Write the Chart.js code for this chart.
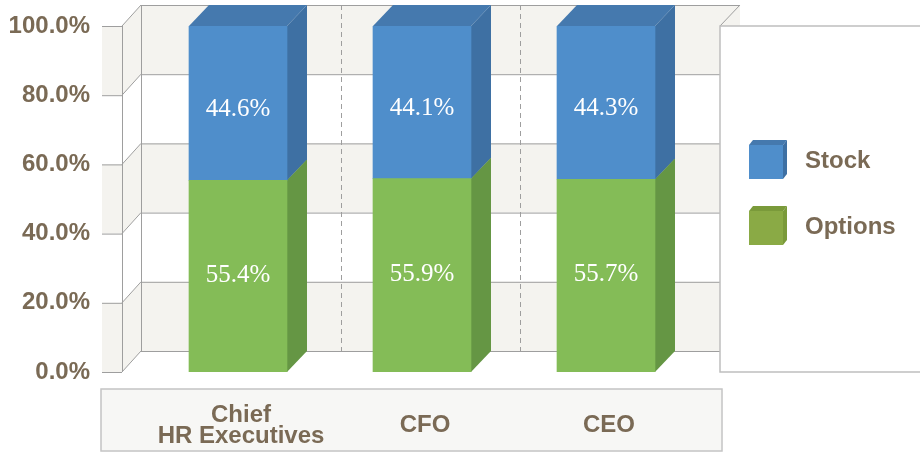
<!DOCTYPE html>
<html>
<head>
<meta charset="utf-8">
<title>Stock and options mix</title>
<script src="https://cdn.jsdelivr.net/npm/chart.js@4"></script>
<style>
    html, body { margin: 0; padding: 0; background: #fff; }
    canvas { display: block; }
</style>
</head>
<body>
<canvas id="mixChart" width="920" height="452"></canvas>
<script>
// Values are the printed labels. The reference draws its boundary a little lower than they imply.
const categories = [['Chief', 'HR Executives'], 'CFO', 'CEO'];
const optionsValues = [55.4, 55.9, 55.7];
const stockValues = [44.6, 44.1, 44.3];
const tickLabels = ['0.0%', '20.0%', '40.0%', '60.0%', '80.0%', '100.0%'];

const textColor = '#7a6a55';
const lineColor = '#9e9e9e';
const bandColor = '#f4f3ef';
const depthX = 20;
const depthY = 21;

// Same order as the datasets: options, stock
const faces = [
    { top: '#659644', side: '#659644', legendFront: '#8aaa45', legendTop: '#7a9a3a', legendSide: '#7a9a3a', labelShift: -1 },
    { top: '#4579ae', side: '#3e70a3', legendFront: '#4f8ecb', legendTop: '#4579ae', legendSide: '#3e70a3', labelShift: 6 }
];

const polygon = (ctx, points, fill) => {
    ctx.beginPath();
    points.forEach((p, i) => (i ? ctx.lineTo(p[0], p[1]) : ctx.moveTo(p[0], p[1])));
    ctx.closePath();
    ctx.fillStyle = fill;
    ctx.fill();
};

const segment = (ctx, x1, y1, x2, y2) => {
    ctx.beginPath();
    ctx.moveTo(x1, y1);
    ctx.lineTo(x2, y2);
    ctx.stroke();
};

// Box behind the categories, side and back walls, legend panel
const wallsPlugin = {
    id: 'walls',
    beforeDraw(chart) {
        const { ctx, chartArea, scales } = chart;
        const y = scales.y;
        const x = scales.x;
        const wallLeft = chartArea.left - 24;
        const wallRight = chartArea.right + 22;
        const backLeft = wallLeft + depthX - 1;
        const stubLeft = wallLeft - 20;
        const ticks = y.ticks.map(t => y.getPixelForValue(t.value));

        ctx.save();
        ctx.fillStyle = '#f7f7f5';
        ctx.fillRect(chartArea.left - 45, chartArea.bottom + 17, chartArea.width + 69, 62);
        ctx.strokeStyle = '#c4c4c4';
        ctx.lineWidth = 1.5;
        ctx.strokeRect(chartArea.left - 45, chartArea.bottom + 17, chartArea.width + 69, 62);

        // alternate bands, starting with the lowest
        for (let i = 0; i < ticks.length - 1; i += 2) {
            const low = ticks[i];
            const high = ticks[i + 1];
            ctx.fillStyle = bandColor;
            ctx.fillRect(stubLeft, high, wallLeft - stubLeft, low - high);
            polygon(ctx, [[wallLeft, low], [backLeft, low - depthY], [backLeft, high - depthY], [wallLeft, high]], bandColor);
            ctx.fillStyle = bandColor;
            ctx.fillRect(backLeft, high - depthY, wallRight - backLeft + depthX, low - high);
        }

        // white panel in front of the walls, its top edge joins the back wall
        ctx.fillStyle = '#fff';
        ctx.fillRect(wallRight, chartArea.top, chart.width - wallRight, chartArea.height);
        ctx.fillRect(wallRight, chartArea.bottom - depthY, depthX + 2, depthY);

        ctx.strokeStyle = lineColor;
        ctx.lineWidth = 1;
        ticks.forEach(tick => {
            segment(ctx, stubLeft, tick + 0.5, wallLeft, tick + 0.5);
            segment(ctx, wallLeft, tick, backLeft, tick - depthY);
            segment(ctx, backLeft, tick - depthY + 0.5, wallRight, tick - depthY + 0.5);
        });
        segment(ctx, wallLeft + 0.5, chartArea.top, wallLeft + 0.5, chartArea.bottom);
        segment(ctx, backLeft + 0.5, chartArea.top - depthY, backLeft + 0.5, chartArea.bottom - depthY);

        // top corner of the back wall
        segment(ctx, wallRight, chartArea.top - depthY + 0.5, wallRight + depthX, chartArea.top - depthY + 0.5);
        segment(ctx, wallRight + depthX, chartArea.top - depthY, wallRight, chartArea.top);

        // dashed dividers on the back wall
        ctx.setLineDash([5, 4]);
        [x.getPixelForValue(0) + 103, x.getPixelForValue(1) + 98].forEach(px => {
            segment(ctx, px + 0.5, chartArea.top - depthY, px + 0.5, chartArea.bottom - depthY);
        });
        ctx.setLineDash([]);

        ctx.strokeStyle = '#bfbfbf';
        ctx.lineWidth = 1.5;
        ctx.beginPath();
        ctx.moveTo(chart.width, chartArea.top);
        ctx.lineTo(wallRight, chartArea.top);
        ctx.lineTo(wallRight, chartArea.bottom);
        ctx.lineTo(chart.width, chartArea.bottom);
        ctx.stroke();
        ctx.restore();
    },
    // Depth of each bar, taken from the bar elements
    beforeDatasetsDraw(chart) {
        const { ctx } = chart;
        chart.data.datasets.forEach((dataset, d) => {
            chart.getDatasetMeta(d).data.forEach(bar => {
                const half = bar.width / 2;
                const left = bar.x - half;
                const right = bar.x + half;
                polygon(ctx, [[right, bar.y], [right + depthX, bar.y - depthY], [right + depthX, bar.base - depthY], [right, bar.base]], faces[d].side);
                polygon(ctx, [[left, bar.y], [left + depthX, bar.y - depthY], [right + depthX, bar.y - depthY], [right, bar.y]], faces[d].top);
            });
        });
    },
    afterDatasetsDraw(chart) {
        const { ctx, chartArea } = chart;
        ctx.save();
        // value labels
        ctx.font = '25px "Liberation Serif"';
        ctx.fillStyle = '#fff';
        ctx.textAlign = 'center';
        ctx.textBaseline = 'middle';
        chart.data.datasets.forEach((dataset, d) => {
            chart.getDatasetMeta(d).data.forEach((bar, i) => {
                const mid = (bar.y + bar.base) / 2 + faces[d].labelShift;
                ctx.fillText(dataset.data[i].toFixed(1) + '%', bar.x, mid);
            });
        });

        // legend, stock first
        const swatchLeft = chartArea.right + 51;
        const swatchSize = 34;
        ctx.font = 'bold 24px "Liberation Sans"';
        ctx.textAlign = 'left';
        [1, 0].forEach((d, row) => {
            const top = chartArea.top + 119 + row * 66;
            const right = swatchLeft + swatchSize;
            polygon(ctx, [[swatchLeft, top], [swatchLeft + 4, top - 5], [right + 4, top - 5], [right, top]], faces[d].legendTop);
            polygon(ctx, [[right, top], [right + 4, top - 5], [right + 4, top + swatchSize - 5], [right, top + swatchSize]], faces[d].legendSide);
            ctx.fillStyle = faces[d].legendFront;
            ctx.fillRect(swatchLeft, top, swatchSize, swatchSize);
            ctx.fillStyle = textColor;
            ctx.fillText(chart.data.datasets[d].label, swatchLeft + 56, top + 16);
        });
        ctx.restore();
    }
};

const mixChart = new Chart(document.getElementById('mixChart').getContext('2d'), {
    type: 'bar',
    data: {
        labels: categories,
        datasets: [
            { label: 'Options', data: optionsValues, backgroundColor: '#84bc57', barThickness: 98 },
            { label: 'Stock', data: stockValues, backgroundColor: '#4f8ecb', barThickness: 98 }
        ]
    },
    plugins: [wallsPlugin],
    options: {
        responsive: false,
        animation: false,
        layout: { padding: { top: 26, right: 222 } },
        plugins: {
            legend: { display: false },
            tooltip: { enabled: false }
        },
        scales: {
            x: {
                stacked: true,
                grid: { display: false, drawTicks: false },
                border: { display: false },
                afterFit(scale) { scale.height = 80; },
                ticks: {
                    color: textColor,
                    font: { family: '"Liberation Sans"', size: 24, weight: 'bold', lineHeight: 0.88 },
                    maxRotation: 0,
                    crossAlign: 'center',
                    labelOffset: 3,
                    padding: 43
                }
            },
            y: {
                stacked: true,
                min: 0,
                max: 100,
                grid: { display: false, drawTicks: false },
                border: { display: false },
                afterFit(scale) {
                    scale.width = 146;
                    scale.paddingTop = 0;
                    scale.paddingBottom = 0;
                },
                ticks: {
                    stepSize: 20,
                    color: textColor,
                    font: { family: '"Liberation Sans"', size: 24, weight: 'bold' },
                    padding: 56,
                    callback: (value, index) => tickLabels[index]
                }
            }
        }
    }
});
</script>
</body>
</html>
